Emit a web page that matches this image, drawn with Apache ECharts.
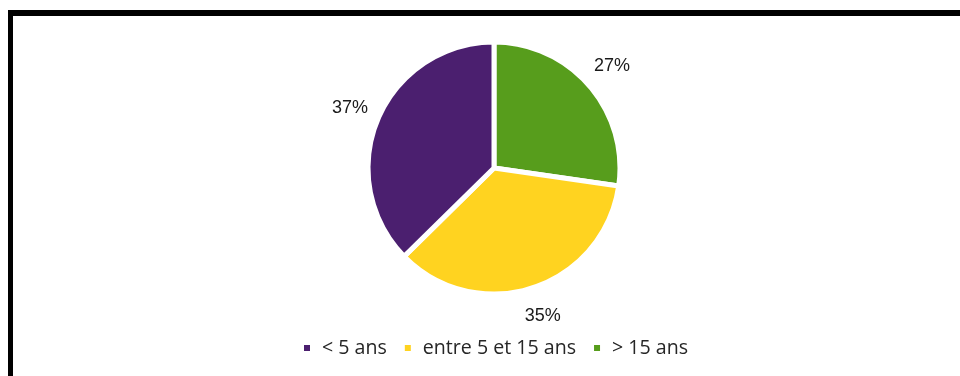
<!DOCTYPE html>
<html>
<head>
<meta charset="utf-8">
<script src="https://cdn.jsdelivr.net/npm/echarts@6/dist/echarts.min.js"></script>
<style>
  html, body { margin: 0; padding: 0; background: #ffffff; }
  #frame {
    position: absolute; left: 8px; top: 10px; width: 952px; height: 366px;
    border-top: 6px solid #000; border-left: 5px solid #000; box-sizing: border-box;
  }
  #chart { position: absolute; left: 0; top: 0; width: 960px; height: 376px; }
</style>
</head>
<body>
<div id="frame"></div>
<div id="chart"></div>
<script>
// Age groups, in legend order
const categories = ['< 5 ans', 'entre 5 et 15 ans', '> 15 ans'];
// Share of each group (%)
const shares = [37, 35, 27];
const colors = ['#4b1f6f', '#ffd320', '#579d1c'];

// Slices are drawn clockwise from 12 o'clock starting with the last group
const drawOrder = [2, 1, 0];
const pieData = drawOrder.map(i => ({
  name: categories[i],
  value: shares[i],
  itemStyle: { color: colors[i] }
}));

const chart = echarts.init(document.getElementById('chart'), null, { renderer: 'canvas' });
chart.setOption({
  animation: false,
  legend: {
    data: categories,
    bottom: 13,
    left: 297,
    icon: 'rect',
    itemWidth: 8,
    itemHeight: 8,
    itemGap: 16,
    textStyle: { fontFamily: 'Open Sans', fontSize: 19.6, color: '#262626', padding: [0, 0, 0, 6] }
  },
  series: [{
    type: 'pie',
    center: [494, 168],
    radius: 126,
    startAngle: 90,
    clockwise: true,
    data: pieData,
    itemStyle: { borderColor: '#ffffff', borderWidth: 5 },
    label: {
      position: 'outside',
      formatter: p => p.value + '%',
      fontFamily: 'Liberation Sans',
      fontSize: 18,
      color: '#1a1a1a',
      distanceToLabelLine: 0
    },
    labelLine: { show: false, length: 30, length2: 0 },
    labelLayout: () => ({ align: 'center', verticalAlign: 'middle' })
  }]
});
</script>
</body>
</html>
